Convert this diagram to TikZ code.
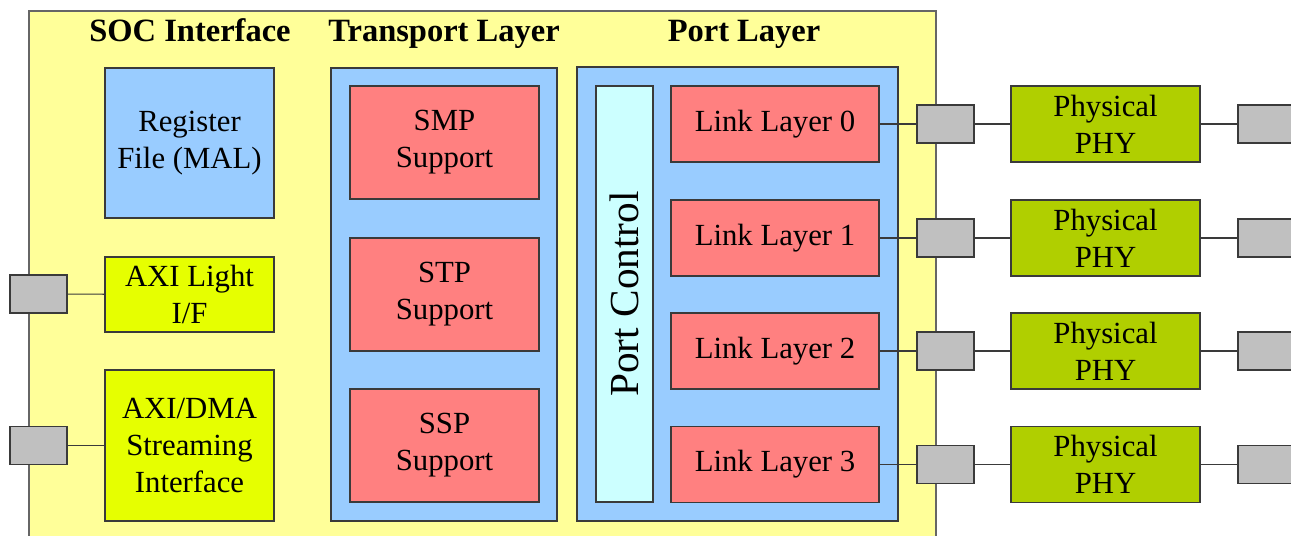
\documentclass[tikz,border=0pt]{standalone}
\usepackage{fontspec}
\setmainfont{Liberation Serif}
\usepackage{tikz}
\usetikzlibrary{calc}
\definecolor{socyellow}{HTML}{FFFF99}
\definecolor{layerblue}{HTML}{99CCFF}
\definecolor{blockred}{HTML}{FF8080}
\definecolor{ctlcyan}{HTML}{CCFFFF}
\definecolor{axigreen}{HTML}{E6FF00}
\definecolor{phygreen}{HTML}{B0CF00}
\definecolor{portgray}{HTML}{C0C0C0}
\definecolor{edgegray}{HTML}{3A3A3A}
\tikzset{
	blk/.style={draw=edgegray, line width=0.6pt, inner sep=0pt, align=center,
		font=\fontsize{17.5}{21}\selectfont},
	port/.style={draw=edgegray, fill=portgray, line width=0.6pt, minimum width=57*0.02cm, minimum height=38*0.02cm, inner sep=0pt},
	wire/.style={draw=edgegray, line width=0.6pt},
	ttl/.style={anchor=base, font=\fontsize{18.5}{20}\selectfont\bfseries}
}
\begin{document}
\begin{tikzpicture}[x=0.02cm, y=-0.02cm]
	\clip (0,0) rectangle (1291,535);
	\useasboundingbox (0,0) rectangle (1291,535);
	\draw [fill=socyellow, draw=gray!80!black, line width=0.6pt] (29,11) rectangle (936,560);
	\path (190,41) node [ttl] (soctitle) {SOC Interface};
	\path (444,41) node [ttl] (tptitle) {Transport Layer};
	\path (744,41) node [ttl] (pltitle) {Port Layer};
	% SOC interface column
	\node [blk, fill=layerblue, minimum width=169*0.02cm, minimum height=150*0.02cm] (regfile) at (189.5,143) {Register\\File (MAL)};
	\node [blk, fill=axigreen, minimum width=169*0.02cm, minimum height=75*0.02cm] (axilite) at (189.5,294.5) {AXI Light\\I/F};
	\node [blk, fill=axigreen, minimum width=169*0.02cm, minimum height=151*0.02cm] (axidma) at (189.5,445.5) {AXI/DMA\\Streaming\\Interface};
	\node [port] (litep) at (38.5,294) {};
	\node [port] (dmap) at (38.5,445.5) {};
	\draw [wire] (litep) -- (axilite);
	\draw [wire] (dmap) -- (axidma);
	% transport layer
	\node [blk, fill=layerblue, minimum width=226*0.02cm, minimum height=453*0.02cm] (transport) at (444,294.5) {};
	\node [blk, fill=blockred, minimum width=189*0.02cm, minimum height=113*0.02cm] (smp) at (444.5,142.5) {SMP\\Support};
	\node [blk, fill=blockred, minimum width=189*0.02cm, minimum height=113*0.02cm] (stp) at (444.5,294.5) {STP\\Support};
	\node [blk, fill=blockred, minimum width=189*0.02cm, minimum height=113*0.02cm] (ssp) at (444.5,445.5) {SSP\\Support};
	% port layer
	\node [blk, fill=layerblue, minimum width=321*0.02cm, minimum height=454*0.02cm] (portlayer) at (737.5,294) {};
	\node [blk, fill=ctlcyan, minimum width=57*0.02cm, minimum height=416*0.02cm] (portctl) at (624.5,294) {};
	\path (portctl.center) node [rotate=90, font=\fontsize{23.5}{25}\selectfont] (ctltext) {Port Control};
	\node [blk, fill=blockred, minimum width=208*0.02cm, minimum height=76*0.02cm] (link0) at (775,124) {Link Layer 0};
	\node [blk, fill=blockred, minimum width=208*0.02cm, minimum height=76*0.02cm] (link1) at (775,238) {Link Layer 1};
	\node [blk, fill=blockred, minimum width=208*0.02cm, minimum height=76*0.02cm] (link2) at (775,351) {Link Layer 2};
	\node [blk, fill=blockred, minimum width=208*0.02cm, minimum height=76*0.02cm] (link3) at (775,464.5) {Link Layer 3};
	% phy ports
	\node [port] (pin0) at (945.5,124) {};
	\node [port] (pin1) at (945.5,238) {};
	\node [port] (pin2) at (945.5,351) {};
	\node [port] (pin3) at (945.5,464.5) {};
	\node [blk, fill=phygreen, minimum width=189*0.02cm, minimum height=76*0.02cm] (phy0) at (1105.5,124) {Physical\\PHY};
	\node [blk, fill=phygreen, minimum width=189*0.02cm, minimum height=76*0.02cm] (phy1) at (1105.5,238) {Physical\\PHY};
	\node [blk, fill=phygreen, minimum width=189*0.02cm, minimum height=76*0.02cm] (phy2) at (1105.5,351) {Physical\\PHY};
	\node [blk, fill=phygreen, minimum width=189*0.02cm, minimum height=76*0.02cm] (phy3) at (1105.5,464.5) {Physical\\PHY};
	\node [port] (pout0) at (1266.5,124) {};
	\node [port] (pout1) at (1266.5,238) {};
	\node [port] (pout2) at (1266.5,351) {};
	\node [port] (pout3) at (1266.5,464.5) {};
	\draw [wire] (link0) -- (pin0) -- (phy0) -- (pout0);
	\draw [wire] (link1) -- (pin1) -- (phy1) -- (pout1);
	\draw [wire] (link2) -- (pin2) -- (phy2) -- (pout2);
	\draw [wire] (link3) -- (pin3) -- (phy3) -- (pout3);
\end{tikzpicture}
\end{document}
